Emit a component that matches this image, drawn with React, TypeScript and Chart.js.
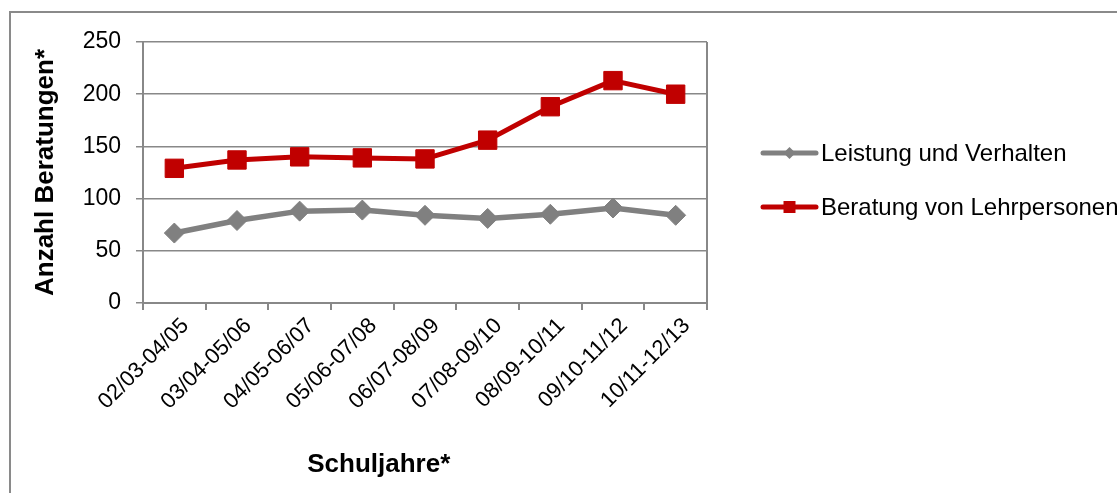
import React, { useEffect, useRef } from 'react';
import { Chart, registerables } from 'chart.js';

Chart.register(...registerables);

const categories = [
  '02/03-04/05',
  '03/04-05/06',
  '04/05-06/07',
  '05/06-07/08',
  '06/07-08/09',
  '07/08-09/10',
  '08/09-10/11',
  '09/10-11/12',
  '10/11-12/13',
];
const leistungValues = [67, 79, 88, 89, 84, 81, 85, 91, 84];
const lehrpersonenValues = [129, 137, 140, 139, 138, 156, 188, 213, 200];
const yTickValues = [0, 50, 100, 150, 200, 250];
const seriesNames = ['Leistung und Verhalten', 'Beratung von Lehrpersonen'];
const xTitleText = 'Schuljahre*';
const yTitleText = 'Anzahl Beratungen*';

const W = 1117;
const H = 493;
const PLOT_LEFT = 143;
const PLOT_TOP = 42;
const PLOT_RIGHT = 707;
const PLOT_BOTTOM = 303;
const FONT = '"Liberation Sans", Arial, sans-serif';
const GRID = '#888888';
const GRAY = '#808080';
const RED = '#C00000';

const frameAndTitlePlugin = {
  id: 'frameAndTitle',
  afterDraw(chart: any) {
    const { ctx, chartArea } = chart;
    ctx.save();
    // right border of the plot area
    ctx.strokeStyle = GRID;
    ctx.lineWidth = 2;
    ctx.beginPath();
    ctx.moveTo(chartArea.right, chartArea.top);
    ctx.lineTo(chartArea.right, chartArea.bottom + 1);
    ctx.stroke();
    // x axis title
    ctx.fillStyle = '#000';
    ctx.font = `bold 26px ${FONT}`;
    ctx.textAlign = 'center';
    ctx.textBaseline = 'middle';
    const cx = chartArea.left + (chartArea.right - chartArea.left) * 0.418;
    ctx.fillText(xTitleText, cx, 465);
    ctx.restore();
  },
};

const legendPlugin = {
  id: 'sideLegend',
  afterDraw(chart: any) {
    const { ctx } = chart;
    chart.data.datasets.forEach((ds: any, i: number) => {
      const y = 153 + i * 54;
      const x0 = 763;
      const x1 = 816;
      const mx = (x0 + x1) / 2;
      ctx.save();
      ctx.strokeStyle = ds.borderColor;
      ctx.lineWidth = 5;
      ctx.lineCap = 'round';
      ctx.beginPath();
      ctx.moveTo(x0, y);
      ctx.lineTo(x1, y);
      ctx.stroke();
      ctx.fillStyle = ds.borderColor;
      ctx.beginPath();
      if (ds.pointStyle === 'rectRot') {
        const r = 6;
        ctx.moveTo(mx, y - r);
        ctx.lineTo(mx + r, y);
        ctx.lineTo(mx, y + r);
        ctx.lineTo(mx - r, y);
        ctx.closePath();
      } else {
        ctx.rect(mx - 6, y - 6, 12, 12);
      }
      ctx.fill();
      ctx.fillStyle = '#000';
      ctx.font = `24px ${FONT}`;
      ctx.textAlign = 'left';
      ctx.textBaseline = 'middle';
      ctx.fillText(ds.label, 821, y + 1);
      ctx.restore();
    });
  },
};

export default function App() {
  const canvasRef = useRef<HTMLCanvasElement | null>(null);

  useEffect(() => {
    const canvas = canvasRef.current;
    if (!canvas) return;
    const chart = new Chart(canvas, {
      type: 'line',
      data: {
        labels: categories,
        datasets: [
          {
            label: seriesNames[0],
            data: leistungValues,
            borderColor: GRAY,
            backgroundColor: GRAY,
            borderWidth: 5.5,
            pointStyle: 'rectRot',
            pointRadius: 10,
            pointBorderWidth: 1,
            pointBackgroundColor: GRAY,
            pointBorderColor: GRAY,
            borderJoinStyle: 'round',
            tension: 0,
          },
          {
            label: seriesNames[1],
            data: lehrpersonenValues,
            borderColor: RED,
            backgroundColor: RED,
            borderWidth: 5,
            pointStyle: 'rect',
            pointRadius: 13,
            pointBorderWidth: 1,
            pointBackgroundColor: RED,
            pointBorderColor: RED,
            borderJoinStyle: 'round',
            tension: 0,
          },
        ],
      },
      options: {
        responsive: false,
        animation: false,
        devicePixelRatio: 1,
        layout: {
          padding: { left: 0, top: PLOT_TOP, right: W - PLOT_RIGHT, bottom: 0 },
        },
        plugins: {
          legend: { display: false },
          tooltip: { enabled: false },
          title: { display: false },
        },
        scales: {
          x: {
            type: 'category',
            offset: true,
            grid: {
              display: true,
              offset: true,
              drawOnChartArea: false,
              drawTicks: true,
              tickLength: 7,
              color: GRID,
              lineWidth: 2,
            },
            border: { display: true, color: GRID, width: 2 },
            ticks: {
              autoSkip: false,
              minRotation: 45,
              maxRotation: 45,
              padding: 3,
              labelOffset: 11,
              color: '#000',
              font: { family: FONT, size: 22 },
            },
            afterFit: (s: any) => {
              s.height = H - PLOT_BOTTOM;
            },
          },
          y: {
            min: 0,
            max: 250,
            afterBuildTicks: (s: any) => {
              s.ticks = yTickValues.map((v) => ({ value: v }));
            },
            grid: {
              color: GRID,
              lineWidth: 1.5,
              drawTicks: true,
              tickLength: 7,
            },
            border: { display: true, color: GRID, width: 2 },
            ticks: {
              padding: 15,
              color: '#000',
              font: { family: FONT, size: 23 },
            },
            title: {
              display: true,
              text: yTitleText,
              color: '#000',
              font: { family: FONT, size: 26, weight: 'bold' },
              padding: { top: 30, bottom: 0 },
            },
            afterFit: (s: any) => {
              s.width = PLOT_LEFT;
            },
          },
        },
      },
      plugins: [frameAndTitlePlugin, legendPlugin],
    } as any);
    return () => chart.destroy();
  }, []);

  return (
    <div style={{ position: 'absolute', left: 0, top: 0, width: W, height: H, overflow: 'hidden', background: '#fff' }}>
      <div
        style={{
          position: 'absolute',
          left: 9,
          top: 11,
          width: W + 20,
          height: H + 20,
          borderTop: '2px solid #8a8a8a',
          borderLeft: '2px solid #8a8a8a',
          boxSizing: 'border-box',
        }}
      />
      <canvas
        ref={canvasRef}
        width={W}
        height={H}
        style={{ position: 'absolute', left: 0, top: 0, width: W, height: H }}
      />
    </div>
  );
}
